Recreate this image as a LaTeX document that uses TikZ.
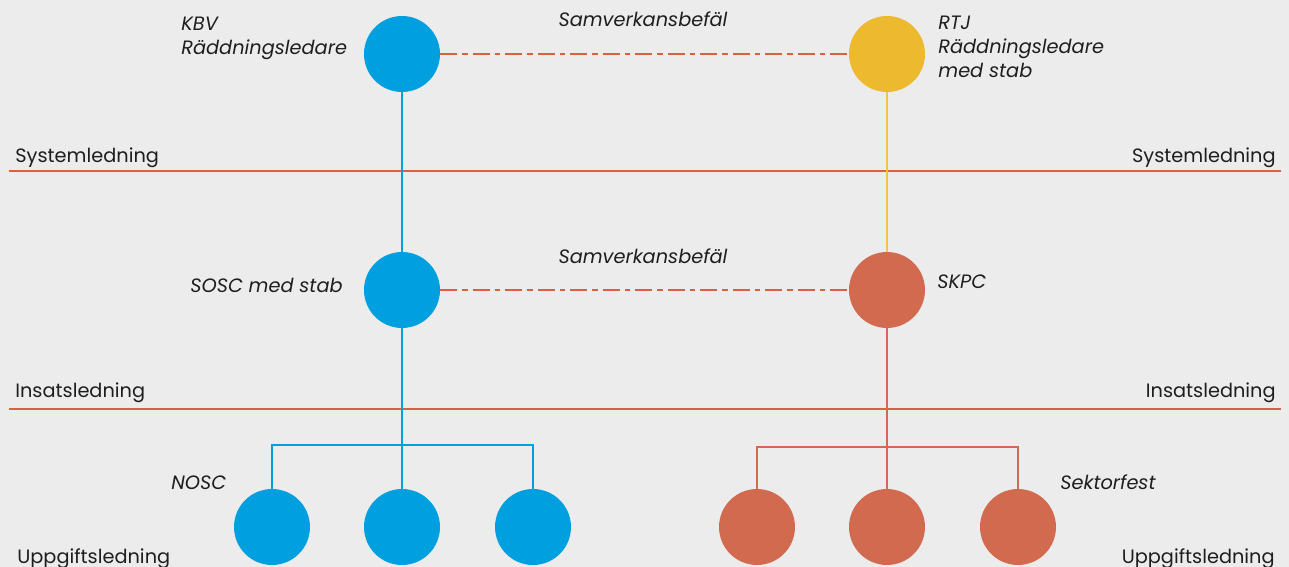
\documentclass[tikz,border=0pt]{standalone}
\usepackage{fontspec}
\setmainfont{Poppins}
\definecolor{bgcol}{RGB}{236,236,236}
\definecolor{kbvblue}{RGB}{0,159,224}
\definecolor{rtjyellow}{RGB}{237,185,46}
\definecolor{skpcorange}{RGB}{210,106,79}
\definecolor{rulered}{RGB}{218,96,66}
\definecolor{txt}{RGB}{30,30,30}
\begin{document}
\begin{tikzpicture}[
        x=0.02cm,
        y=-0.02cm,
        every node/.style={font=\fontsize{11}{13.8}\selectfont, text=txt, inner sep=0pt},
        role/.style={font=\fontsize{11}{13.8}\selectfont\itshape, align=left},
        unit/.style={circle, minimum size=1.52cm, draw=none},
        levelrule/.style={rulered, line width=0.9pt},
        dashdot/.style={rulered, line width=0.8pt, dash pattern=on 9.5pt off 3pt on 3pt off 3pt}
    ]
        % Canvas
        \fill[bgcol] (0,0) rectangle (1289,567);
        \useasboundingbox (0,0) rectangle (1289,567);

        % Level rules
        \draw[levelrule] (9,171) -- (1281,171);
        \draw[levelrule] (9,409) -- (1281,409);

        % Level names
        \node[anchor=base west] at (15,163){Systemledning};
        \node[anchor=base east] at (1276,163){Systemledning};
        \node[anchor=base west] at (15,398){Insatsledning};
        \node[anchor=base east] at (1276,398){Insatsledning};
        \node[anchor=base west] at (17,563){Uppgiftsledning};
        \node[anchor=base east] at (1275,563){Uppgiftsledning};

        % Units
        \node[unit, fill=kbvblue] (kbv) at (402,54){};
        \node[unit, fill=rtjyellow] (rtj) at (887,54){};
        \node[unit, fill=kbvblue] (sosc) at (402,290){};
        \node[unit, fill=skpcorange] (skpc) at (887,290){};
        \node[unit, fill=kbvblue] (nosc) at (272,527){};
        \node[unit, fill=kbvblue] (blue2) at (402,527){};
        \node[unit, fill=kbvblue] (blue3) at (533,527){};
        \node[unit, fill=skpcorange] (sektor1) at (757,527){};
        \node[unit, fill=skpcorange] (sektor2) at (887,527){};
        \node[unit, fill=skpcorange] (sektor3) at (1018,527){};

        % Chains of command
        \coordinate (bluebar) at (402,445);
        \coordinate (orangebar) at (887,447);
        \draw[kbvblue, line width=0.7pt] (kbv) -- (sosc);
        \draw[kbvblue, line width=0.7pt] (sosc) -- (bluebar) -- (blue2);
        \draw[kbvblue, line width=0.7pt] (nosc.north) |- (bluebar) -| (blue3.north);
        \draw[rtjyellow!85!white, line width=0.7pt] (rtj) -- (skpc);
        \draw[skpcorange, line width=0.7pt] (skpc) -- (orangebar) -- (sektor2);
        \draw[skpcorange, line width=0.7pt] (sektor1.north) |- (orangebar) -| (sektor3.north);

        % Cooperation links
        \draw[dashdot] (kbv) -- (rtj);
        \draw[dashdot] (sosc) -- (skpc);
        \node[role, anchor=base] (samvtop) at (643,27){Samverkansbefäl};
        \node[role, anchor=base] (samvmid) at (643,264){Samverkansbefäl};

        % Unit labels (base = last line)
        \node[role, anchor=base west] (kbvlabel) at (181,55){KBV\\Räddningsledare};
        \node[role, anchor=base west] (rtjlabel) at (938,78){RTJ\\Räddningsledare\\med stab};
        \node[role, anchor=base east] (sosclabel) at (343,293){SOSC med stab};
        \node[role, anchor=base west] (skpclabel) at (937,289){SKPC};
        \node[role, anchor=base west] (nosclabel) at (171,490){NOSC};
        \node[role, anchor=base west] (sektorlabel) at (1060,490){Sektorfest};
    \end{tikzpicture}
\end{document}
